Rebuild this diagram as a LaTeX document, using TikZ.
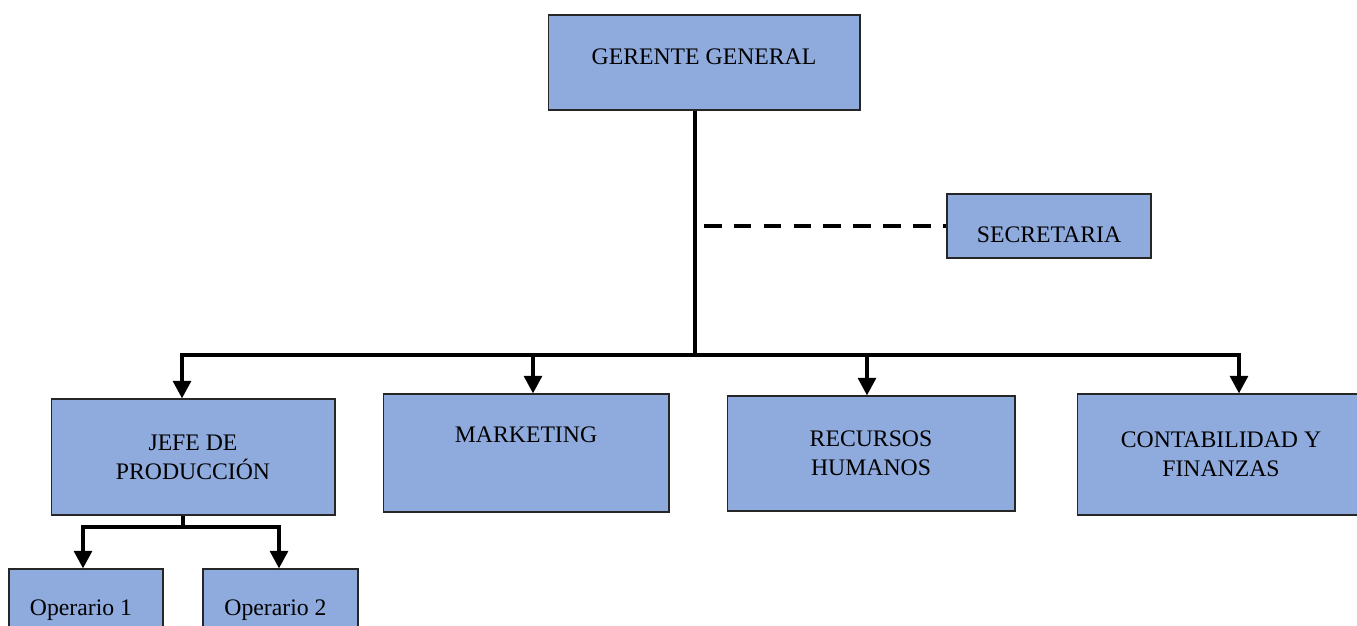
\documentclass[tikz,border=0pt]{standalone}
\usepackage{fontspec}
\setmainfont{Liberation Serif}
\usetikzlibrary{arrows.meta}
\definecolor{cor_azul}{HTML}{8FAADC}

\begin{document}
\begin{tikzpicture}[x=0.02cm, y=-0.02cm]
        \tikzset{
            caja/.style={
                draw=black!85,
                fill=#1,
                line width=0.6pt,
                align=center,
                inner sep=0pt,
                font=\fontsize{13.5}{16.4}\selectfont
            },
            linea/.style={black, line width=2.3pt},
            flecha/.style={black, line width=2.3pt, -{Triangle[width=10pt,length=10pt]}}
        }
        \useasboundingbox (0,0) rectangle (1357,626);

        %cajas
        \node[caja=cor_azul, minimum width=6.24cm, minimum height=1.9cm] (gerente) at (704,62.5) {\raisebox{0.12cm}[\height][\depth]{GERENTE GENERAL}};
        \node[caja=cor_azul, minimum width=4.08cm, minimum height=1.28cm] (secretaria) at (1049,226) {\raisebox{-0.18cm}[\height][\depth]{SECRETARIA}};

        \node[caja=cor_azul, minimum width=5.68cm, minimum height=2.32cm] (jefe) at (193,457) {JEFE DE\\PRODUCCIÓN};
        \node[caja=cor_azul, minimum width=5.72cm, minimum height=2.36cm] (marketing) at (526,453) {\raisebox{0.36cm}[\height][\depth]{MARKETING}};
        \node[caja=cor_azul, minimum width=5.76cm, minimum height=2.30cm] (recursos) at (871,453.5) {RECURSOS\\HUMANOS};
        \node[caja=cor_azul, minimum width=5.76cm, minimum height=2.42cm] (contabilidad) at (1221,454.5) {CONTABILIDAD Y\\FINANZAS};

        \node[caja=cor_azul, minimum width=3.08cm, minimum height=1.64cm] (operario1) at (86,610) {Operario 1\hspace*{0.2cm}};
        \node[caja=cor_azul, minimum width=3.10cm, minimum height=1.64cm] (operario2) at (280.5,610) {Operario 2\hspace*{0.2cm}};

        %puntos de la barra
        \coordinate (nudo) at (695,355);
        \coordinate (b1) at (182,355);
        \coordinate (b2) at (533,355);
        \coordinate (b3) at (867,355);
        \coordinate (b4) at (1239,355);
        \coordinate (guion) at (704,226);

        \draw[linea] (gerente.south -| nudo) -- (nudo);
        \draw[linea, line cap=rect] (b1) -- (b4);
        \draw[linea, dash pattern=on 10pt off 7pt] (guion) -- (guion -| secretaria.west);

        \draw[flecha] (b1) -- (b1 |- jefe.north);
        \draw[flecha] (b2) -- (b2 |- marketing.north);
        \draw[flecha] (b3) -- (b3 |- recursos.north);
        \draw[flecha] (b4) -- (b4 |- contabilidad.north);

        %operarios
        \coordinate (nudo2) at (183,527);
        \coordinate (o1) at (83,527);
        \coordinate (o2) at (279,527);

        \draw[linea] (jefe.south -| nudo2) -- (nudo2);
        \draw[linea, line cap=rect] (o1) -- (o2);
        \draw[flecha] (o1) -- (o1 |- operario1.north);
        \draw[flecha] (o2) -- (o2 |- operario2.north);

    \end{tikzpicture}
\end{document}
